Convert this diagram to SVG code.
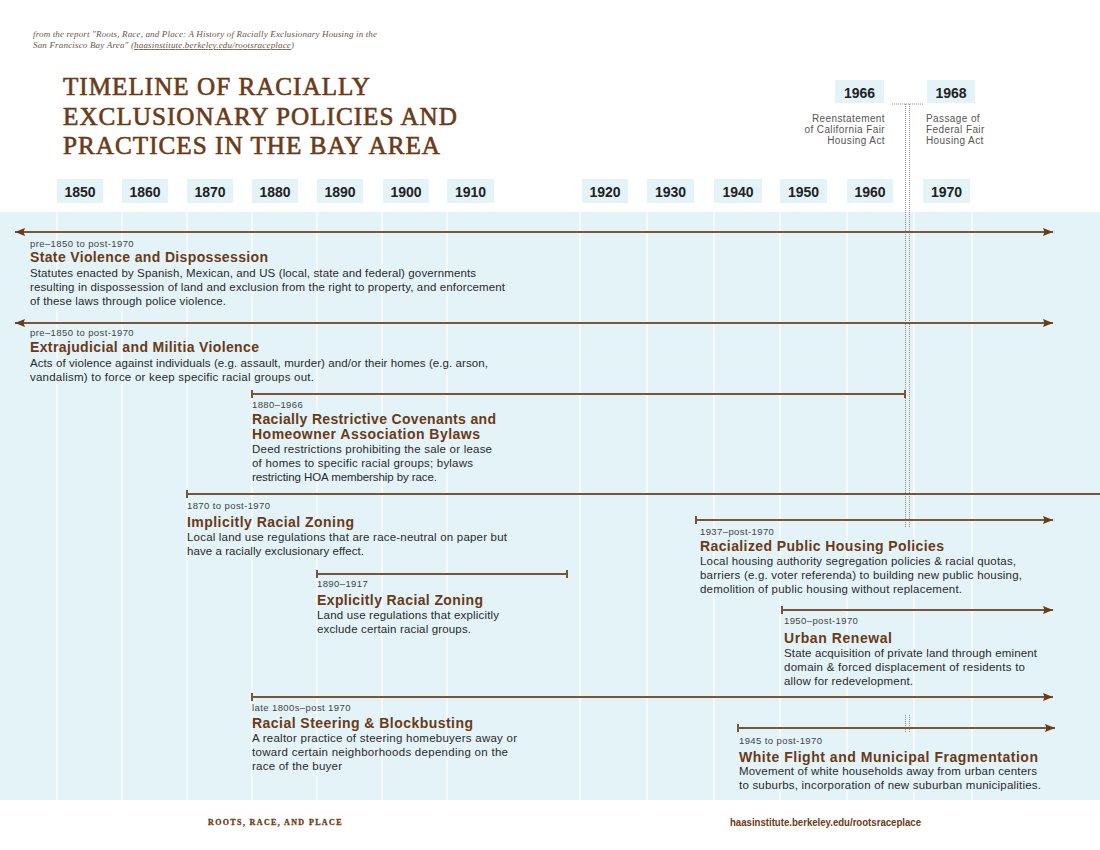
<svg xmlns="http://www.w3.org/2000/svg" width="1100" height="850" viewBox="0 0 1100 850">
<defs>
<style>
.bg{fill:#ffffff}
.band{fill:#e3f3f8}
.grid{stroke:#ffffff;stroke-width:1.2}
.ybox{fill:#e3f3f8}
.ytxt{font-family:"Liberation Sans",Arial,sans-serif;font-weight:bold;font-size:14px;fill:#222222;text-anchor:middle}
.title{font-family:"Liberation Serif","Times New Roman",serif;font-size:25px;fill:#6b3a16;stroke:#6b3a16;stroke-width:0.6px;letter-spacing:1px}
.hdr{font-family:"Liberation Serif","Times New Roman",serif;font-style:italic;font-size:9px;fill:#6b5646}
.note{font-family:"Liberation Sans",Arial,sans-serif;font-size:10px;fill:#555555;letter-spacing:0.4px}
.lbl{font-family:"Liberation Sans",Arial,sans-serif;font-size:9.5px;fill:#444444;letter-spacing:0.4px}
.ttl{font-family:"Liberation Sans",Arial,sans-serif;font-weight:bold;font-size:14px;fill:#6b3a16}
.body{font-family:"Liberation Sans",Arial,sans-serif;font-size:11.5px;fill:#2a2a2a}
.line{stroke:#79553a;stroke-width:2;fill:none}
.dot{stroke:#a09080;stroke-width:1;stroke-dasharray:1 1;fill:none}
.foot1{font-family:"Liberation Serif","Times New Roman",serif;font-weight:bold;font-size:8px;fill:#6b3a16;stroke:#6b3a16;stroke-width:0.3px;letter-spacing:1.5px}
.foot2{font-family:"Liberation Sans",Arial,sans-serif;font-weight:bold;font-size:10px;fill:#6b3a16}
</style>
<marker id="arr" viewBox="0 0 10 8" refX="10" refY="4" markerWidth="10" markerHeight="8" markerUnits="userSpaceOnUse" orient="auto-start-reverse">
<path d="M0,0 L10,4 L0,8 L1.5,4 z" fill="#6b3a16"/>
</marker>
<marker id="tick" viewBox="0 0 2 8" refX="1" refY="4" markerWidth="2" markerHeight="8" markerUnits="userSpaceOnUse" orient="0">
<rect x="0" y="0" width="2" height="8" fill="#79553a"/>
</marker>
</defs>
<rect class="bg" x="0" y="0" width="1100" height="850"/>
<rect class="band" x="0" y="212" width="1100" height="588"/>

<g id="gridlines">
<line class="grid" x1="57" y1="212" x2="57" y2="800"/>
<line class="grid" x1="122" y1="212" x2="122" y2="800"/>
<line class="grid" x1="187" y1="212" x2="187" y2="800"/>
<line class="grid" x1="252" y1="212" x2="252" y2="800"/>
<line class="grid" x1="317" y1="212" x2="317" y2="800"/>
<line class="grid" x1="382" y1="212" x2="382" y2="800"/>
<line class="grid" x1="447" y1="212" x2="447" y2="800"/>
<line class="grid" x1="580" y1="212" x2="580" y2="800"/>
<line class="grid" x1="647" y1="212" x2="647" y2="800"/>
<line class="grid" x1="714" y1="212" x2="714" y2="800"/>
<line class="grid" x1="780" y1="212" x2="780" y2="800"/>
<line class="grid" x1="847" y1="212" x2="847" y2="800"/>
<line class="grid" x1="914" y1="212" x2="914" y2="800"/>
<line class="grid" x1="972" y1="212" x2="972" y2="800"/>
</g>

<g id="header">
<text class="hdr" x="33" y="37" textLength="344">from the report "Roots, Race, and Place: A History of Racially Exclusionary Housing in the</text>
<text class="hdr" x="33" y="48" textLength="261">San Francisco Bay Area" (<tspan text-decoration="underline">haasinstitute.berkeley.edu/rootsraceplace</tspan>)</text>
</g>

<g id="title">
<text class="title" x="63" y="95" textLength="308" lengthAdjust="spacingAndGlyphs">TIMELINE OF RACIALLY</text>
<text class="title" x="63" y="125" textLength="395" lengthAdjust="spacingAndGlyphs">EXCLUSIONARY POLICIES AND</text>
<text class="title" x="63" y="154" textLength="378" lengthAdjust="spacingAndGlyphs">PRACTICES IN THE BAY AREA</text>
</g>

<g id="years">
<rect class="ybox" x="57" y="179" width="46" height="24"/><text class="ytxt" x="80" y="197">1850</text>
<rect class="ybox" x="122" y="179" width="46" height="24"/><text class="ytxt" x="145" y="197">1860</text>
<rect class="ybox" x="187" y="179" width="46" height="24"/><text class="ytxt" x="210" y="197">1870</text>
<rect class="ybox" x="252" y="179" width="46" height="24"/><text class="ytxt" x="275" y="197">1880</text>
<rect class="ybox" x="317" y="179" width="46" height="24"/><text class="ytxt" x="340" y="197">1890</text>
<rect class="ybox" x="383" y="179" width="46" height="24"/><text class="ytxt" x="406" y="197">1900</text>
<rect class="ybox" x="447" y="179" width="47" height="24"/><text class="ytxt" x="470.5" y="197">1910</text>
<rect class="ybox" x="582" y="179" width="46" height="24"/><text class="ytxt" x="605" y="197">1920</text>
<rect class="ybox" x="647" y="179" width="47" height="24"/><text class="ytxt" x="670.5" y="197">1930</text>
<rect class="ybox" x="714" y="179" width="48" height="24"/><text class="ytxt" x="738" y="197">1940</text>
<rect class="ybox" x="780" y="179" width="47" height="24"/><text class="ytxt" x="803.5" y="197">1950</text>
<rect class="ybox" x="847" y="179" width="46" height="24"/><text class="ytxt" x="870" y="197">1960</text>
<rect class="ybox" x="923" y="179" width="47" height="24"/><text class="ytxt" x="946.5" y="197">1970</text>
</g>

<g id="milestones">
<rect class="ybox" x="835" y="80" width="49" height="23"/><text class="ytxt" x="859.5" y="98">1966</text>
<rect class="ybox" x="927" y="80" width="48" height="23"/><text class="ytxt" x="951" y="98">1968</text>
<text class="note" x="885" y="122" text-anchor="end">Reenstatement</text>
<text class="note" x="885" y="133" text-anchor="end">of California Fair</text>
<text class="note" x="885" y="144" text-anchor="end">Housing Act</text>
<text class="note" x="926" y="122">Passage of</text>
<text class="note" x="926" y="133">Federal Fair</text>
<text class="note" x="926" y="144">Housing Act</text>
<path class="dot" d="M892,104 H924 M905.5,104 V528 M909.5,104 V528 M905.5,715 V733 M909.5,715 V733"/>
</g>

<g id="connectors">
<line class="line" x1="15" y1="232" x2="1053" y2="232" marker-start="url(#arr)" marker-end="url(#arr)"/>
<line class="line" x1="15" y1="323" x2="1053" y2="323" marker-start="url(#arr)" marker-end="url(#arr)"/>
<line class="line" x1="252" y1="394" x2="905" y2="394" marker-start="url(#tick)" marker-end="url(#tick)"/>
<line class="line" x1="187" y1="494" x2="1100" y2="494" marker-start="url(#tick)"/>
<line class="line" x1="696" y1="520" x2="1053" y2="520" marker-start="url(#tick)" marker-end="url(#arr)"/>
<line class="line" x1="317" y1="574" x2="567" y2="574" marker-start="url(#tick)" marker-end="url(#tick)"/>
<line class="line" x1="782" y1="610" x2="1053" y2="610" marker-start="url(#tick)" marker-end="url(#arr)"/>
<line class="line" x1="252" y1="697" x2="1053" y2="697" marker-start="url(#tick)" marker-end="url(#arr)"/>
<line class="line" x1="738" y1="728" x2="1055" y2="728" marker-start="url(#tick)" marker-end="url(#arr)"/>
</g>

<g id="state-violence">
<text class="lbl" x="30" y="247">pre–1850 to post-1970</text>
<text class="ttl" x="30" y="262" textLength="238">State Violence and Dispossession</text>
<text class="body" x="30" y="277" textLength="446">Statutes enacted by Spanish, Mexican, and US (local, state and federal) governments</text>
<text class="body" x="30" y="291" textLength="475">resulting in dispossession of land and exclusion from the right to property, and enforcement</text>
<text class="body" x="30" y="305" textLength="196">of these laws through police violence.</text>
</g>

<g id="extrajudicial">
<text class="lbl" x="30" y="336">pre–1850 to post-1970</text>
<text class="ttl" x="30" y="352" textLength="229">Extrajudicial and Militia Violence</text>
<text class="body" x="30" y="367" textLength="458">Acts of violence against individuals (e.g. assault, murder) and/or their homes (e.g. arson,</text>
<text class="body" x="30" y="381" textLength="284">vandalism) to force or keep specific racial groups out.</text>
</g>

<g id="covenants">
<text class="lbl" x="252" y="408">1880–1966</text>
<text class="ttl" x="252" y="424" textLength="244">Racially Restrictive Covenants and</text>
<text class="ttl" x="252" y="439" textLength="228">Homeowner Association Bylaws</text>
<text class="body" x="252" y="453" textLength="240">Deed restrictions prohibiting the sale or lease</text>
<text class="body" x="252" y="467" textLength="221">of homes to specific racial groups; bylaws</text>
<text class="body" x="252" y="481" textLength="185">restricting HOA membership by race.</text>
</g>

<g id="implicit-zoning">
<text class="lbl" x="187" y="509">1870 to post-1970</text>
<text class="ttl" x="187" y="527" textLength="167">Implicitly Racial Zoning</text>
<text class="body" x="187" y="541" textLength="320">Local land use regulations that are race-neutral on paper but</text>
<text class="body" x="187" y="555" textLength="177">have a racially exclusionary effect.</text>
</g>

<g id="public-housing">
<text class="lbl" x="700" y="535">1937–post-1970</text>
<text class="ttl" x="700" y="551" textLength="244">Racialized Public Housing Policies</text>
<text class="body" x="700" y="565" textLength="316">Local housing authority segregation policies &amp; racial quotas,</text>
<text class="body" x="700" y="579" textLength="322">barriers (e.g. voter referenda) to building new public housing,</text>
<text class="body" x="700" y="593" textLength="262">demolition of public housing without replacement.</text>
</g>

<g id="explicit-zoning">
<text class="lbl" x="317" y="587">1890–1917</text>
<text class="ttl" x="317" y="605" textLength="166">Explicitly Racial Zoning</text>
<text class="body" x="317" y="619" textLength="182">Land use regulations that explicitly</text>
<text class="body" x="317" y="633" textLength="154">exclude certain racial groups.</text>
</g>

<g id="urban-renewal">
<text class="lbl" x="784" y="624">1950–post-1970</text>
<text class="ttl" x="784" y="643" textLength="108">Urban Renewal</text>
<text class="body" x="784" y="657" textLength="253">State acquisition of private land through eminent</text>
<text class="body" x="784" y="671" textLength="241">domain &amp; forced displacement of residents to</text>
<text class="body" x="784" y="685" textLength="129">allow for redevelopment.</text>
</g>

<g id="steering">
<text class="lbl" x="252" y="711">late 1800s–post 1970</text>
<text class="ttl" x="252" y="728" textLength="221">Racial Steering &amp; Blockbusting</text>
<text class="body" x="252" y="742" textLength="265">A realtor practice of steering homebuyers away or</text>
<text class="body" x="252" y="756" textLength="256">toward certain neighborhoods depending on the</text>
<text class="body" x="252" y="770" textLength="90">race of the buyer</text>
</g>

<g id="white-flight">
<text class="lbl" x="739" y="744">1945 to post-1970</text>
<text class="ttl" x="739" y="762" textLength="299">White Flight and Municipal Fragmentation</text>
<text class="body" x="739" y="775" textLength="298">Movement of white households away from urban centers</text>
<text class="body" x="739" y="789" textLength="302">to suburbs, incorporation of new suburban municipalities.</text>
</g>

<g id="footer">
<text class="foot1" x="208" y="825" textLength="135">ROOTS, RACE, AND PLACE</text>
<text class="foot2" x="730" y="826" textLength="191" lengthAdjust="spacingAndGlyphs">haasinstitute.berkeley.edu/rootsraceplace</text>
</g>
</svg>
